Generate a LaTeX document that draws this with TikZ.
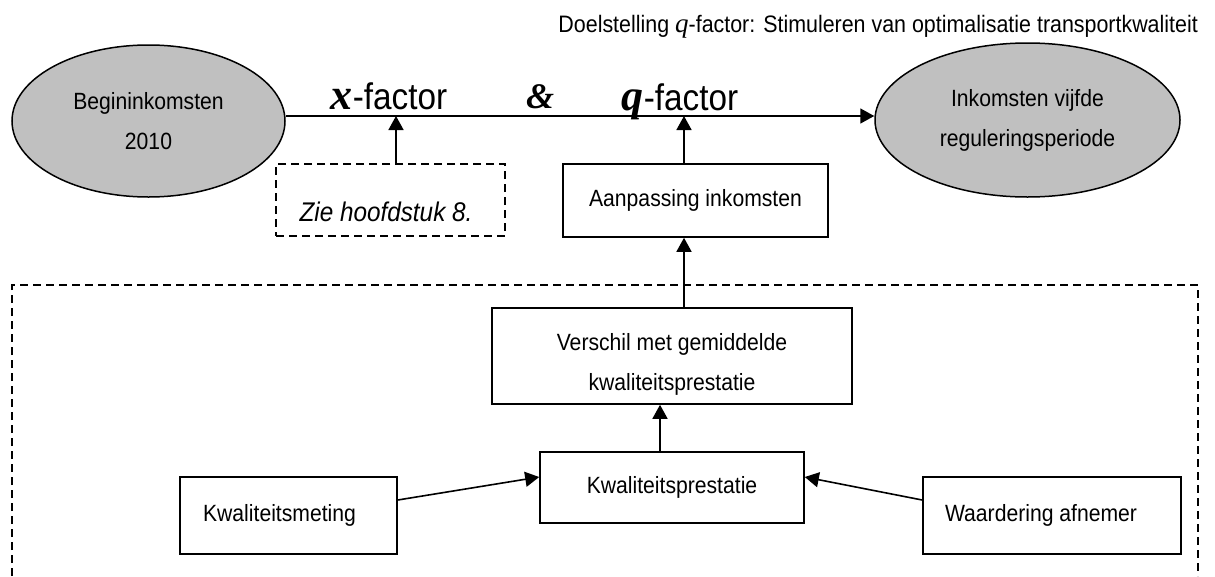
\documentclass[tikz,border=0pt]{standalone}
\usepackage{fontspec}
\setmainfont{Liberation Sans}[FakeStretch=0.9]
\newfontfamily\lserif{Liberation Serif}
\usetikzlibrary{shapes.geometric,arrows.meta}
\definecolor{ellgray}{HTML}{C0C0C0}
\begin{document}
\begin{tikzpicture}[x=1pt,y=-1pt,
  every node/.style={font=\fontsize{23.5pt}{40pt}\selectfont, inner sep=0pt},
  ell/.style={ellipse, draw, line width=1.5pt, fill=ellgray, align=center},
  bx/.style={rectangle, draw, line width=1.6pt, align=center},
  dbx/.style={rectangle, draw, line width=1.5pt, dash pattern=on 8pt off 5pt},
  dline/.style={line width=1.5pt, dash pattern=on 8pt off 5pt},
  arr/.style={line width=1.6pt, -{Triangle[length=14pt,width=15pt]}},
  big/.style={font=\fontsize{37pt}{40pt}\selectfont}
]
\useasboundingbox (0,0) rectangle (1215,576);

% title
\node[anchor=base east, font=\fontsize{23.8pt}{30pt}\selectfont] (title) at (1198,32) {Doelstelling {\lserif\itshape\fontsize{27pt}{30pt}\selectfont q}-factor: Stimuleren van optimalisatie transportkwaliteit};

% ellipses
\node[ell, minimum width=273pt, minimum height=152pt] (begin) at (148.5,121) {Begininkomsten\\2010};
\node[ell, minimum width=305pt, minimum height=154pt] (end) at (1027.5,120) {Inkomsten vijfde\\reguleringsperiode};

% factor labels
\node[anchor=base, big] (xf) at (389,109) {{\lserif\bfseries\itshape\fontsize{44pt}{40pt}\selectfont x}-factor};
\node[anchor=base] (amp) at (540,108) {\lserif\bfseries\itshape\fontsize{36pt}{40pt}\selectfont\&};
\node[anchor=base, big] (qf) at (680,110) {{\lserif\bfseries\itshape\fontsize{44pt}{40pt}\selectfont q}-factor};

% upper boxes
\node[dbx, minimum width=229pt, minimum height=72pt,
      label={[xshift=-4.5pt, yshift=-12pt, font=\fontsize{27pt}{30pt}\selectfont\itshape]center:Zie hoofdstuk 8.}] (zie) at (390.5,200) {};
\node[bx, minimum width=265pt, minimum height=73pt] (aanp) at (695.5,200.5) {Aanpassing inkomsten};

% big dashed frame
\coordinate (dBL) at (12,576);
\coordinate (dTL) at (12,285);
\coordinate (dTR) at (1198,285);
\coordinate (dBR) at (1198,576);
\draw[dline] (dBL) -- (dTL) -- (dTR) -- (dBR);

% lower boxes
\node[bx, minimum width=360pt, minimum height=96pt,
      label={[yshift=-8pt, align=center]center:{Verschil met gemiddelde\\kwaliteitsprestatie}}] (ver) at (672,356) {};
\node[bx, minimum width=264pt, minimum height=71pt] (kp) at (672,487.5) {Kwaliteitsprestatie};
\node[bx, minimum width=217pt, minimum height=77pt,
      label={[xshift=-9pt]center:Kwaliteitsmeting}] (km) at (288.5,515.5) {};
\node[bx, minimum width=258pt, minimum height=77pt,
      label={[xshift=-11pt]center:Waardering afnemer}] (wa) at (1052,515.5) {};

% connectors
\coordinate (ly) at (0,116);
\coordinate (xa) at (396,0);
\coordinate (xb) at (684,0);
\coordinate (xc) at (660,0);
\draw[arr] (begin.east |- ly) -- (end.west |- ly);
\draw[arr] (zie.north -| xa) -- (xa |- ly);
\draw[arr] (aanp.north -| xb) -- (xb |- ly);
\draw[arr] (ver.north -| xb) -- (aanp.south -| xb);
\draw[arr] (kp.north -| xc) -- (ver.south -| xc);
\draw[arr] ([yshift=15.5pt]km.east) -- ([yshift=10.5pt]kp.west);
\draw[arr] ([yshift=15.5pt]wa.west) -- ([yshift=10.5pt]kp.east);
\end{tikzpicture}
\end{document}
